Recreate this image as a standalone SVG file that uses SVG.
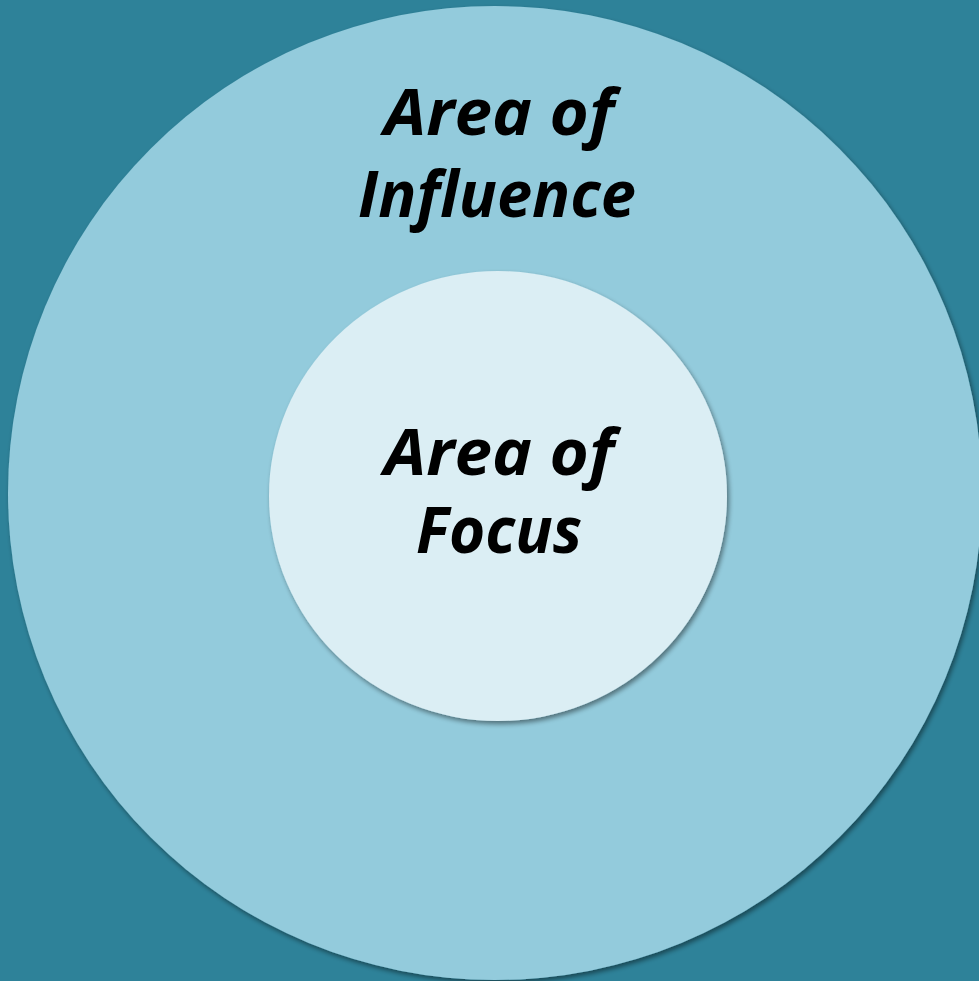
<svg xmlns="http://www.w3.org/2000/svg" width="979" height="981" viewBox="0 0 979 981">
  <style>
    .lbl { font-family: "Open Sans", "Liberation Sans", Arial, sans-serif; font-weight: bold; font-style: italic; font-size: 64px; fill: #000000; text-anchor: middle; }
  </style>
  <defs>
    <filter id="shadow" x="-10%" y="-10%" width="120%" height="120%">
      <feGaussianBlur in="SourceAlpha" stdDeviation="2.5"/>
      <feOffset dx="2" dy="3" result="b"/>
      <feComponentTransfer><feFuncA type="linear" slope="0.45"/></feComponentTransfer>
      <feMerge><feMergeNode/><feMergeNode in="SourceGraphic"/></feMerge>
    </filter>
  </defs>
  <rect x="0" y="0" width="979" height="981" fill="#2E8299"/>
  <g id="area-of-influence">
    <circle cx="495" cy="493" r="487" fill="#93CBDC" filter="url(#shadow)"/>
    <text class="lbl" x="499" y="135" textLength="230" lengthAdjust="spacingAndGlyphs">Area of</text>
    <text class="lbl" x="497" y="217" textLength="278" lengthAdjust="spacingAndGlyphs">Influence</text>
  </g>
  <g id="area-of-focus">
    <ellipse cx="498" cy="496" rx="229" ry="225" fill="#DBEEF4" filter="url(#shadow)"/>
    <text class="lbl" x="499" y="475" textLength="230" lengthAdjust="spacingAndGlyphs">Area of</text>
    <text class="lbl" x="499" y="553" textLength="166" lengthAdjust="spacingAndGlyphs">Focus</text>
  </g>
  <g id="connectors"/>
</svg>
